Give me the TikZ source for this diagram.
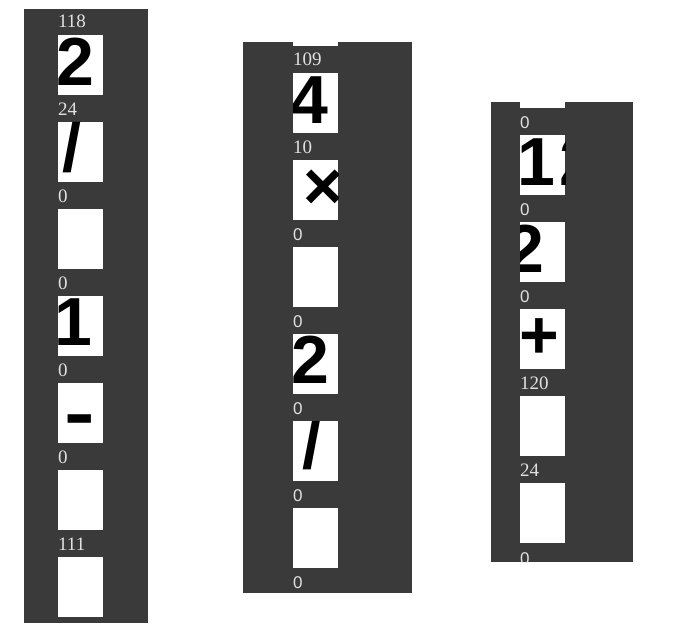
\documentclass[tikz,border=0pt]{standalone}
\usepackage{fontspec}
\newfontfamily\glyphfont{Liberation Sans}
\newfontfamily\scorefont{Liberation Serif}
\definecolor{panelgray}{RGB}{58,58,58}
\definecolor{scoregray}{RGB}{225,225,225}

\begin{document}
\begin{tikzpicture}[x=1pt,y=-1pt,
    panel/.style={fill=panelgray},
    cell/.style={fill=white},
    score/.style={text=scoregray,font=\scorefont\fontsize{19}{19}\selectfont,anchor=base west,inner sep=0pt},
    zero/.style={score,font=\glyphfont\fontsize{17}{17}\selectfont},
    glyph/.style={font=\glyphfont\bfseries\fontsize{68}{68}\selectfont,anchor=base,inner sep=0pt}]

        \useasboundingbox (0,0) rectangle (677,642);

        % First strip (Left)
        \begin{scope}
          \fill[panel] (24,9) rectangle (148,623);
          \foreach \y/\s/\st [count=\i] in {35/118/score,122/24/score,209/0/score,296/0/score,383/0/score,470/0/score,557/111/score} {
            \fill[cell] (58,\y) rectangle ++(45,60);
            \node[\st] (a-s\i) at (58,\y-7) {\s};
          }
          % Characters in the cells
          \node[glyph] (a-c1) at (75,85) {2};
          \node[glyph] (a-c2) at (72,171) {/};
          \node[glyph] (a-c4) at (73,345) {1};
          \node[glyph] (a-c5) at (79.5,437) {\scalebox{1.35}[1.05]{-}};
        \end{scope}

        % Second strip (Middle)
        \begin{scope}
          \fill[panel] (243,42) rectangle (412,593);
          \clip (243,42) rectangle (412,593);
          \fill[cell] (293,-14) rectangle ++(45,60);
          \foreach \y/\s/\st [count=\i] in {73/109/score,160/10/score,247/0/zero,334/0/zero,421/0/zero,508/0/zero} {
            \fill[cell] (293,\y) rectangle ++(45,60);
            \node[\st] (b-s\i) at (293,\y-7) {\s};
          }
          \node[zero] (b-s7) at (293,588) {0};
          % Characters, cut to their cells
          \begin{scope}
            \clip \foreach \y in {73,160,247,334,421,508} {(293,\y) rectangle ++(45,60)};
            \node[glyph] (b-c1) at (309,123) {4};
            \node[glyph] (b-c2) at (323,209) {×};
            \node[glyph] (b-c4) at (310,383) {2};
            \node[glyph] (b-c5) at (311.5,468) {/};
          \end{scope}
        \end{scope}

        % Third strip (Right)
        \begin{scope}
          \fill[panel] (491,102) rectangle (633,562);
          \clip (491,102) rectangle (633,562);
          \fill[cell] (520,48) rectangle ++(45,60);
          \foreach \y/\s/\st [count=\i] in {135/0/zero,222/0/zero,309/0/zero,396/120/score,483/24/score} {
            \fill[cell] (520,\y) rectangle ++(45,60);
            \node[\st] (c-s\i) at (520,\y-7) {\s};
          }
          \node[zero] (c-s6) at (520,564) {0};
          % Characters, cut to their cells
          \begin{scope}
            \clip \foreach \y in {135,222,309,396,483} {(520,\y) rectangle ++(45,60)};
            \node[glyph,anchor=base west] (c-c1) at (517,185) {1\kern5pt 2};
            \node[glyph] (c-c2) at (525,272) {2};
            \node[glyph] (c-c3) at (539,358) {+};
          \end{scope}
        \end{scope}

\end{tikzpicture}
\end{document}
